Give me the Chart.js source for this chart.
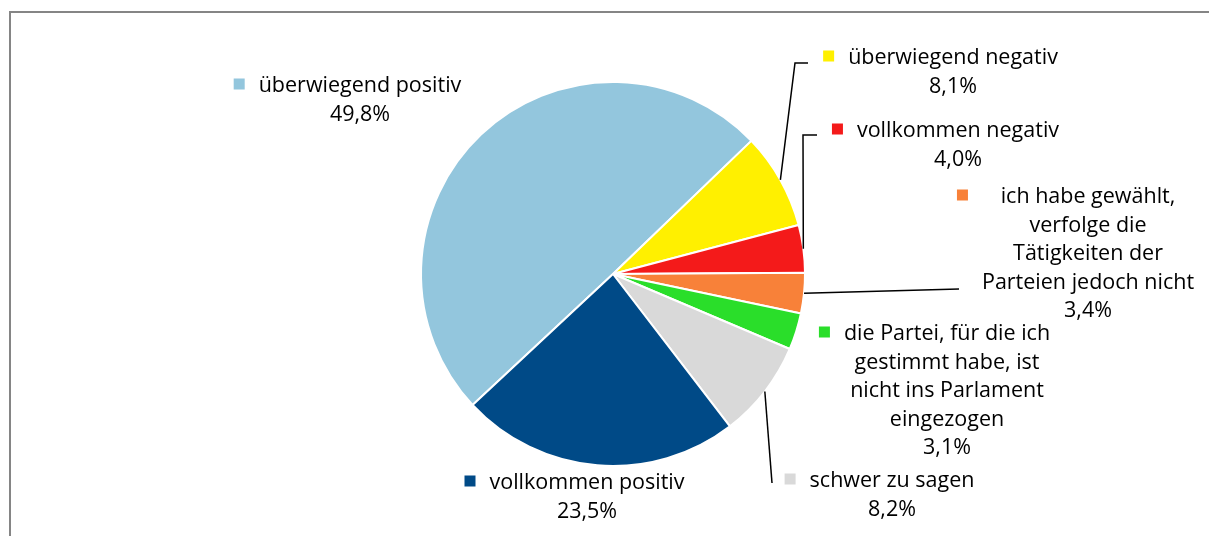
<!DOCTYPE html>
<html>
<head>
<meta charset="utf-8">
<script src="https://cdn.jsdelivr.net/npm/chart.js@4"></script>
<style>
    html, body { margin: 0; padding: 0; background: #fff; }
    #wrap { width: 1209px; height: 536px; }
</style>
</head>
<body>
<div id="wrap"><canvas id="pie" width="1209" height="536"></canvas></div>
<script>
    // Daten
    const categories = [
        'überwiegend positiv',
        'überwiegend negativ',
        'vollkommen negativ',
        ['ich habe gewählt,', 'verfolge die', 'Tätigkeiten der', 'Parteien jedoch nicht'],
        ['die Partei, für die ich', 'gestimmt habe, ist', 'nicht ins Parlament', 'eingezogen'],
        'schwer zu sagen',
        'vollkommen positiv'
    ];
    const shares = [49.8, 8.1, 4.0, 3.4, 3.1, 8.2, 23.5];
    const colors = ['#93c6dd', '#fff000', '#f41a1a', '#f88139', '#2ade2a', '#d9d9d9', '#004a87'];

    // Lage der Beschriftungen (Textmitte x, Mitte erste Zeile y, Knickpunkte der Führungslinie)
    const labelPlaces = [
        { cx: 360, y: 86, leader: null },
        { cx: 953, y: 58, leader: [[795, 63], [808, 63]] },
        { cx: 958, y: 131, leader: [[803, 135], [817, 135]] },
        { cx: 1088, y: 197, leader: [[959, 289]] },
        { cx: 947, y: 334, leader: null },
        { cx: 892, y: 481, leader: [[772, 483]] },
        { cx: 587, y: 483, leader: null }
    ];

    const FONT = '21.5px "Open Sans", sans-serif';
    const LINE_H = 28.5;

    function fmt(v) {
        return v.toFixed(1).replace('.', ',') + '%';
    }

    const frame = {
        id: 'frame',
        beforeDraw: function (chart) {
            const ctx = chart.ctx;
            ctx.save();
            ctx.strokeStyle = '#858585';
            ctx.lineWidth = 2;
            ctx.beginPath();
            ctx.moveTo(10, 536);
            ctx.lineTo(10, 12);
            ctx.lineTo(1209, 12);
            ctx.stroke();
            ctx.restore();
        }
    };

    const pieLabels = {
        id: 'pieLabels',
        afterDatasetsDraw: function (chart) {
            const ctx = chart.ctx;
            const meta = chart.getDatasetMeta(0);
            ctx.save();
            ctx.font = FONT;
            ctx.textAlign = 'center';
            ctx.textBaseline = 'middle';
            meta.data.forEach(function (arc, i) {
                const p = labelPlaces[i];
                const lines = [].concat(categories[i]);
                lines.push(fmt(shares[i]));

                if (p.leader) {
                    const mid = (arc.startAngle + arc.endAngle) / 2;
                    ctx.strokeStyle = '#000';
                    ctx.lineWidth = 1.5;
                    ctx.beginPath();
                    ctx.moveTo(arc.x + Math.cos(mid) * arc.outerRadius, arc.y + Math.sin(mid) * arc.outerRadius);
                    p.leader.forEach(function (pt) { ctx.lineTo(pt[0], pt[1]); });
                    ctx.stroke();
                }

                const textLines = lines.slice(0, lines.length - 1);
                const widest = Math.max.apply(null, textLines.map(function (t) { return ctx.measureText(t).width; }));
                ctx.fillStyle = colors[i];
                ctx.fillRect(p.cx - widest / 2 - 14 - 11, p.y - 7.5, 11, 11);

                ctx.fillStyle = '#000';
                lines.forEach(function (t, k) {
                    ctx.fillText(t, p.cx, p.y + k * LINE_H);
                });
            });
            ctx.restore();
        }
    };

    new Chart(document.getElementById('pie'), {
        type: 'pie',
        data: {
            labels: categories,
            datasets: [{
                data: shares,
                backgroundColor: colors,
                borderColor: '#fff',
                borderWidth: 2
            }]
        },
        options: {
            responsive: false,
            animation: false,
            rotation: -133,
            layout: { padding: { top: 81, bottom: 69, left: 300, right: 283 } },
            plugins: {
                legend: { display: false },
                tooltip: { enabled: false }
            }
        },
        plugins: [frame, pieLabels]
    });
</script>
</body>
</html>
